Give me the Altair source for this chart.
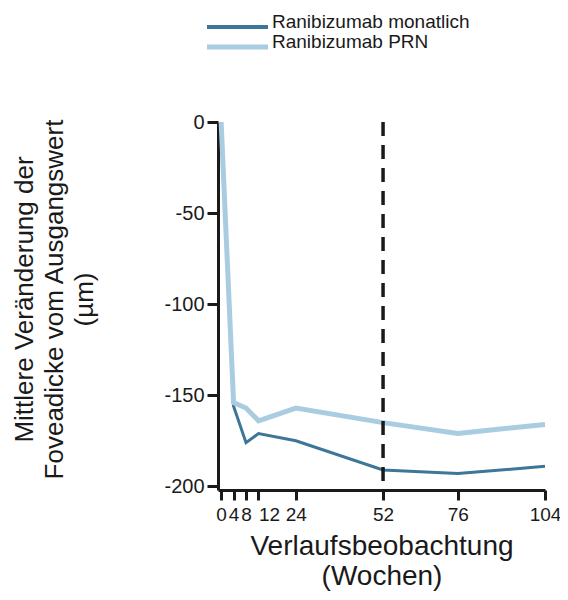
import altair as alt
import pandas as pd

# ---- data ----
weeks = [0, 4, 8, 12, 24, 52, 76, 104]
monthly = [0, -156, -176, -171, -175, -191, -193, -189]
prn = [0, -154, -157, -164, -157, -165, -171, -166]
series_names = ["Ranibizumab monatlich", "Ranibizumab PRN"]
series_colors = ["#3c7698", "#a9cce1"]
y_ticks = [0, -50, -100, -150, -200]
x_ticks = weeks
marker_week = [52]
y_domain = [-202, 0]
x_domain = [-1, 104]

FONT = "Liberation Sans"
INK = "#1a1a1a"

df_m = pd.DataFrame({"week": weeks, "value": monthly, "series": series_names[0]})
df_p = pd.DataFrame({"week": weeks, "value": prn, "series": series_names[1]})
df_rule = pd.DataFrame({"week": marker_week, "top": [y_domain[1]], "bottom": [y_domain[0]]})

x_enc = alt.X(
    "week:Q",
    scale=alt.Scale(domain=x_domain, nice=False, zero=False),
    axis=alt.Axis(
        values=x_ticks,
        grid=False,
        labelOverlap=False,
        labelExpr="'' + datum.value",
        labelAlign={"condition": {"test": "datum.value == 12", "value": "left"}, "value": "center"},
        labelFontSize=19,
        labelPadding=5,
        labelColor=INK,
        tickSize=10,
        tickWidth=3,
        tickColor=INK,
        domainWidth=3,
        domainColor=INK,
        title=["Verlaufsbeobachtung", "(Wochen)"],
        titleFontSize=28,
        titleFontWeight="normal",
        titleColor=INK,
        titleLineHeight=30,
        titleBaseline="alphabetic",
        titleY=64,
    ),
)
y_enc = alt.Y(
    "value:Q",
    scale=alt.Scale(domain=y_domain, nice=False, zero=False),
    axis=alt.Axis(
        values=y_ticks,
        grid=False,
        labelExpr="'' + datum.value",
        labelFontSize=20,
        labelPadding=3,
        labelColor=INK,
        tickSize=11,
        tickWidth=3,
        tickColor=INK,
        domainWidth=3,
        domainColor=INK,
        title=["Mittlere Veränderung der", "Foveadicke vom Ausgangswert", "(µm)"],
        titleFontSize=26,
        titleFontWeight="normal",
        titleColor=INK,
        titleLineHeight=30,
        titleBaseline="alphabetic",
        titleAngle=270,
        titleX=-186,
        titleY=177,
    ),
)

line_m = alt.Chart(df_m).mark_line(strokeWidth=3, color=series_colors[0]).encode(x=x_enc, y=y_enc)
line_p = alt.Chart(df_p).mark_line(strokeWidth=5, color=series_colors[1]).encode(x="week:Q", y="value:Q")
rule = alt.Chart(df_rule).mark_rule(strokeDash=[14, 9], strokeWidth=3.5, color=INK).encode(
    x="week:Q", y="top:Q", y2="bottom:Q"
)

# ---- manual legend (above the plot) ----
legend_layers = []
legend_rows_y = [-95, -75]
legend_widths = [4, 5]
for name, col, ly, lw in zip(series_names, series_colors, legend_rows_y, legend_widths):
    d = pd.DataFrame({"series": [name]})
    legend_layers.append(
        alt.Chart(d).mark_rule(color=col, strokeWidth=lw).encode(
            x=alt.value(-11), x2=alt.value(50), y=alt.value(ly)
        )
    )
    legend_layers.append(
        alt.Chart(d).mark_text(
            align="left", baseline="alphabetic", fontSize=19, font=FONT, color=INK
        ).encode(x=alt.value(54), y=alt.value(ly + 1), text="series:N")
    )

chart = (
    alt.layer(line_m, line_p, rule, *legend_layers)
    .properties(
        width=327,
        height=368,
        autosize=alt.AutoSizeParams(type="none"),
        padding={"left": 210, "top": 114, "right": 15, "bottom": 102},
    )
    .configure(font=FONT)
    .configure_view(stroke=None)
    .configure_axis(labelFont=FONT, titleFont=FONT)
)

chart.save("out.html", embed_options={"renderer": "svg", "actions": False})
